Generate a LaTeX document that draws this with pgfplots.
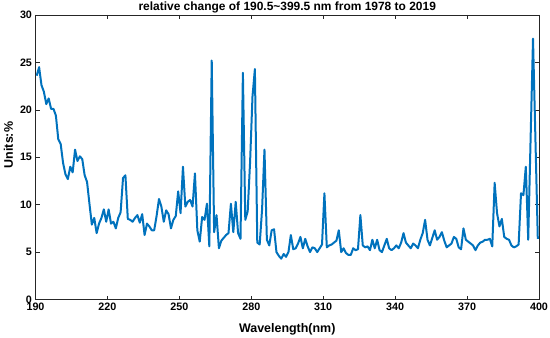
\documentclass[border=0pt]{standalone}
\usepackage{fontspec}
\setmainfont{Liberation Sans}
\usepackage{pgfplots}
\usepackage{pgfplotstable}
\pgfplotsset{compat=1.18}
\definecolor{mblue}{rgb}{0,0.447,0.741}
\definecolor{axgray}{rgb}{0.15,0.15,0.15}
\pgfplotstableread{
x y
190.5 23.6
191.5 24.5
192.5 22.6
193.5 21.9
194.5 20.6
195.5 21.2
196.5 20.1
197.5 20.1
198.5 19.4
199.5 16.9
200.5 16.4
201.5 14.4
202.5 13.2
203.5 12.7
204.5 14.0
205.5 13.4
206.5 15.8
207.5 14.6
208.5 15.1
209.5 14.8
210.5 13.1
211.5 12.4
212.5 10.1
213.5 7.9
214.5 8.6
215.5 7.0
216.5 8.0
217.5 8.6
218.5 9.5
219.5 8.2
220.5 9.5
221.5 8.0
222.5 8.2
223.5 7.5
224.5 8.6
225.5 9.2
226.5 12.8
227.5 13.1
228.5 8.5
229.5 8.4
230.5 8.2
231.5 8.6
232.5 8.9
233.5 8.1
234.5 9.0
235.5 6.8
236.5 8.0
237.5 7.7
238.5 7.3
239.5 7.3
240.5 8.8
241.5 10.6
242.5 9.8
243.5 8.2
244.5 9.4
245.5 9.0
246.5 7.5
247.5 8.4
248.5 8.8
249.5 11.4
250.5 9.1
251.5 14.0
252.5 9.8
253.5 10.3
254.5 10.5
255.5 9.8
256.5 13.3
257.5 7.3
258.5 6.1
259.5 8.7
260.5 8.4
261.5 10.1
262.5 5.6
263.5 25.2
264.5 7.1
265.5 8.9
266.5 5.4
267.5 6.2
268.5 6.5
269.5 6.8
270.5 7.0
271.5 10.1
272.5 7.1
273.5 10.3
274.5 7.0
275.5 6.4
276.5 23.9
277.5 8.4
278.5 9.3
279.5 14.5
280.5 21.4
281.5 24.3
282.5 6.0
283.5 5.8
284.5 9.5
285.5 15.8
286.5 6.3
287.5 5.7
288.5 7.3
289.5 7.4
290.5 5.0
291.5 4.6
292.5 4.3
293.5 4.8
294.5 4.5
295.5 5.0
296.5 6.8
297.5 5.3
298.5 5.4
299.5 5.9
300.5 6.6
301.5 5.4
302.5 6.4
303.5 5.6
304.5 5.0
305.5 5.5
306.5 5.4
307.5 5.0
308.5 5.4
309.5 5.8
310.5 11.2
311.5 5.5
312.5 5.7
313.5 5.8
314.5 6.0
315.5 6.2
316.5 7.3
317.5 5.0
318.5 5.4
319.5 4.9
320.5 4.7
321.5 4.7
322.5 5.4
323.5 5.2
324.5 5.3
325.5 8.9
326.5 5.7
327.5 5.5
328.5 5.6
329.5 5.2
330.5 6.3
331.5 5.4
332.5 6.3
333.5 5.2
334.5 5.0
335.5 5.7
336.5 6.4
337.5 5.4
338.5 5.2
339.5 5.4
340.5 5.7
341.5 5.4
342.5 6.0
343.5 7.0
344.5 6.0
345.5 5.7
346.5 5.4
347.5 5.9
348.5 5.7
349.5 5.4
350.5 6.3
351.5 7.0
352.5 8.4
353.5 6.3
354.5 5.7
355.5 6.5
356.5 7.3
357.5 6.3
358.5 6.6
359.5 7.1
360.5 6.2
361.5 5.5
362.5 5.7
363.5 5.9
364.5 6.6
365.5 6.4
366.5 5.5
367.5 5.3
368.5 7.5
369.5 6.3
370.5 6.1
371.5 5.9
372.5 5.7
373.5 5.2
374.5 5.7
375.5 6.0
376.5 6.1
377.5 6.3
378.5 6.3
379.5 6.4
380.5 5.6
381.5 12.3
382.5 9.1
383.5 7.7
384.5 8.5
385.5 6.6
386.5 6.4
387.5 6.3
388.5 5.7
389.5 5.5
390.5 5.6
391.5 5.8
392.5 11.2
393.5 11.0
394.5 14.0
395.5 6.3
396.5 17.0
397.5 27.5
398.5 17.0
399.5 6.4
}\datatable
\begin{document}
\begin{tikzpicture}
\useasboundingbox (-35.5bp,-38.5bp) rectangle (514.5bp,299.5bp);
\begin{axis}[
  at={(0,0)}, anchor=south west,
  width=503.5bp, height=284.5bp, scale only axis,
  xmin=190, xmax=400, ymin=0, ymax=30,
  xtick={190,220,...,400}, ytick={0,5,...,30},
  tick align=inside, major tick length=4bp,
  axis line style={axgray, line width=0.5bp},
  tick style={axgray, line width=0.5bp},
  ticklabel style={font=\bfseries\fontsize{10.8}{12}\selectfont, text=black},
  /pgf/number format/assume math mode=true,
  /pgf/number format/1000 sep={},
  xlabel={Wavelength(nm)}, ylabel={Units:\%},
  every axis x label/.style={at={(axis description cs:0.5,0)}, anchor=base, yshift=-32.5bp},
  every axis y label/.style={at={(axis description cs:-0.0536,0.543)}, rotate=90, anchor=center},
  label style={font=\bfseries\fontsize{12.5}{14}\selectfont},
  title={relative change of 190.5\textasciitilde 399.5 nm from 1978 to 2019},
  every axis title/.style={font=\bfseries\fontsize{12}{14}\selectfont, at={(axis description cs:0.5,1)}, anchor=base, yshift=4.5bp},
]
\addplot[mblue, line width=2bp, line join=round] table[x=x,y=y] {\datatable};
\end{axis}
\end{tikzpicture}
\end{document}
